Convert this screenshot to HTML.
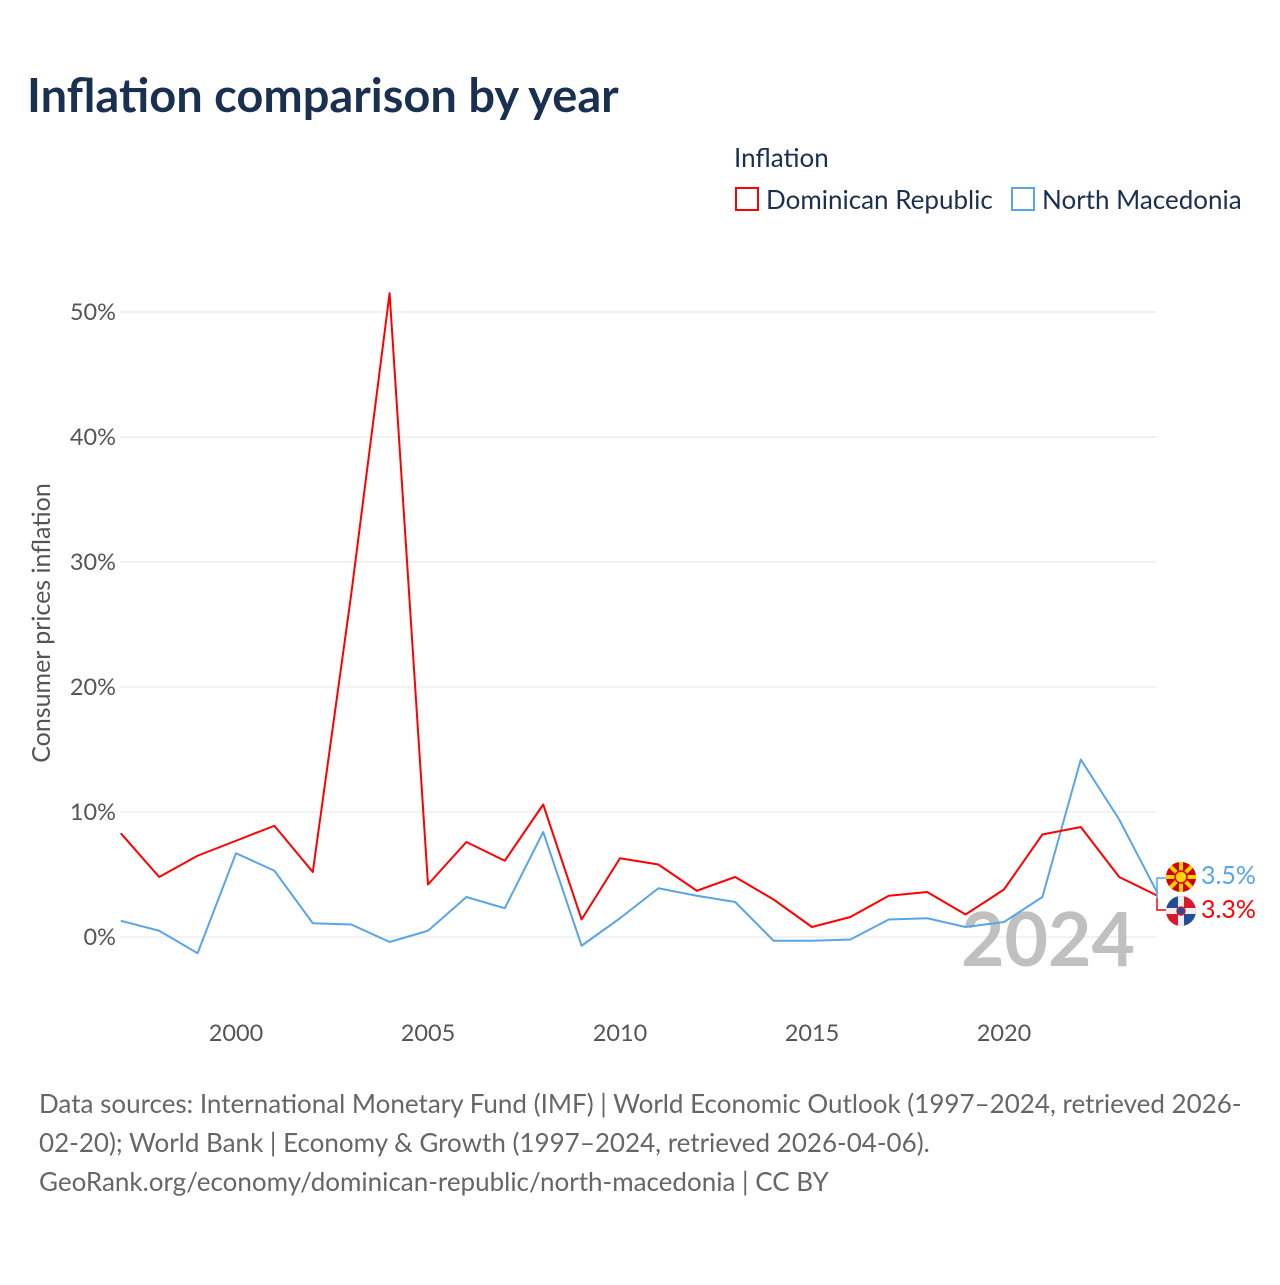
<!DOCTYPE html>
<html><head><meta charset="utf-8"><style>
body{margin:0;background:#fff;font-family:"Liberation Sans",sans-serif}
svg text{font-family:"Lato","Liberation Sans",sans-serif}
</style></head><body>
<svg id="c" width="1280" height="1280" viewBox="0 0 1280 1280">
<text x="27" y="112" font-size="47" font-weight="bold" fill="#1a3050">Inflation comparison by year</text>
<text x="734" y="167" font-size="26" fill="#1a3050">Inflation</text>
<g><rect x="736" y="188" width="22" height="22" fill="none" stroke="#f00" stroke-width="2"/><text x="766" y="209" font-size="26" fill="#1a3050">Dominican Republic</text></g>
<g><rect x="1012" y="188" width="22" height="22" fill="none" stroke="#5aa5e6" stroke-width="2"/><text x="1042" y="209" font-size="26" fill="#1a3050">North Macedonia</text></g>
<text transform="translate(50,623) rotate(-90)" text-anchor="middle" font-size="25" fill="#555">Consumer prices inflation</text>
<g id="grid"></g><g id="xt"></g>
<text x="1135" y="966" text-anchor="end" font-size="75" font-weight="bold" fill="#c0c0c0">2024</text>
<g id="lines"></g>
<path d="M1157 898 V878 H1166" fill="none" stroke="#5aa5e6" stroke-width="1.5"/>
<path d="M1157 898 V910 H1166" fill="none" stroke="#f00" stroke-width="1.5"/>
<g>
<clipPath id="c1"><circle cx="1181" cy="877" r="15"/></clipPath>
<g clip-path="url(#c1)"><rect x="1166" y="862" width="30" height="30" fill="#d20000"/>
<g stroke="#ffd200" stroke-width="4"><line x1="1166" y1="862" x2="1196" y2="892"/><line x1="1196" y1="862" x2="1166" y2="892"/><line x1="1181" y1="860" x2="1181" y2="894"/><line x1="1164" y1="877" x2="1198" y2="877"/></g>
<circle cx="1181" cy="877" r="6" fill="#ffd200" stroke="#d20000" stroke-width="1.5"/></g></g>
<g>
<clipPath id="c2"><circle cx="1181" cy="911" r="15"/></clipPath>
<g clip-path="url(#c2)"><rect x="1166" y="896" width="15" height="15" fill="#1f4f96"/><rect x="1181" y="896" width="15" height="15" fill="#d41b2c"/><rect x="1166" y="911" width="15" height="15" fill="#d41b2c"/><rect x="1181" y="911" width="15" height="15" fill="#1f4f96"/>
<rect x="1166" y="908" width="30" height="6" fill="#eee"/><rect x="1178" y="896" width="6" height="30" fill="#eee"/><circle cx="1181" cy="911" r="4" fill="#1f4f96" stroke="#d41b2c" stroke-width="1.5"/></g></g>
<text x="1201" y="884" font-size="25" fill="#5aa5e6">3.5%</text>
<text x="1201" y="918" font-size="25" fill="#f00">3.3%</text>
<text font-size="26" fill="#666"><tspan x="39" y="1113">Data sources: International Monetary Fund (IMF) | World Economic Outlook (1997–2024, retrieved 2026-</tspan><tspan x="39" y="1152">02-20); World Bank | Economy &amp; Growth (1997–2024, retrieved 2026-04-06).</tspan><tspan x="39" y="1191">GeoRank.org/economy/dominican-republic/north-macedonia | CC BY</tspan></text>
</svg>
<script>
const years=[1997,1998,1999,2000,2001,2002,2003,2004,2005,2006,2007,2008,2009,2010,2011,2012,2013,2014,2015,2016,2017,2018,2019,2020,2021,2022,2023,2024];
const drValues=[8.3,4.8,6.5,7.7,8.9,5.2,27.4,51.5,4.2,7.6,6.1,10.6,1.4,6.3,5.8,3.7,4.8,3.0,0.8,1.6,3.3,3.6,1.8,3.8,8.2,8.8,4.8,3.3];
const nmValues=[1.3,0.5,-1.3,6.7,5.3,1.1,1.0,-0.4,0.5,3.2,2.3,8.4,-0.7,1.5,3.9,3.3,2.8,-0.3,-0.3,-0.2,1.4,1.5,0.8,1.2,3.2,14.2,9.4,3.5];
const yTicks=[0,10,20,30,40,50];
const xTicks=[2000,2005,2010,2015,2020];
const NS="http://www.w3.org/2000/svg";
const xS=y=>120.8+(y-1997)*38.4;
const yS=v=>937-v*12.5;
function mk(t,a,p){const e=document.createElementNS(NS,t);for(const k in a)e.setAttribute(k,a[k]);p.appendChild(e);return e;}
const g=document.getElementById('grid');
yTicks.forEach(v=>{
 const l=mk('line',{x1:120,x2:1157,y1:yS(v),y2:yS(v),stroke:'#e6e6e6','stroke-width':1},g);
 
 
 const t=mk('text',{x:116,y:yS(v)+8,'text-anchor':'end','font-size':23.5,fill:'#555'},g);
 t.textContent=v+'%';
 
 
});
const xt=document.getElementById('xt');
xTicks.forEach(y=>{
 const t=mk('text',{x:xS(y),y:1041,'text-anchor':'middle','font-size':23.5,fill:'#555'},xt);
 t.textContent=y;
 
 
});
const L=document.getElementById('lines');
function line(vals,col,name){
 const p=mk('polyline',{points:vals.map((v,i)=>xS(years[i])+','+yS(v)).join(' '),fill:'none',stroke:col,'stroke-width':2,'stroke-linejoin':'round'},L);
 
 
}
line(nmValues,'#5aa5e6','line-north-macedonia');
line(drValues,'#f00','line-dominican-republic');
</script>
</body></html>
